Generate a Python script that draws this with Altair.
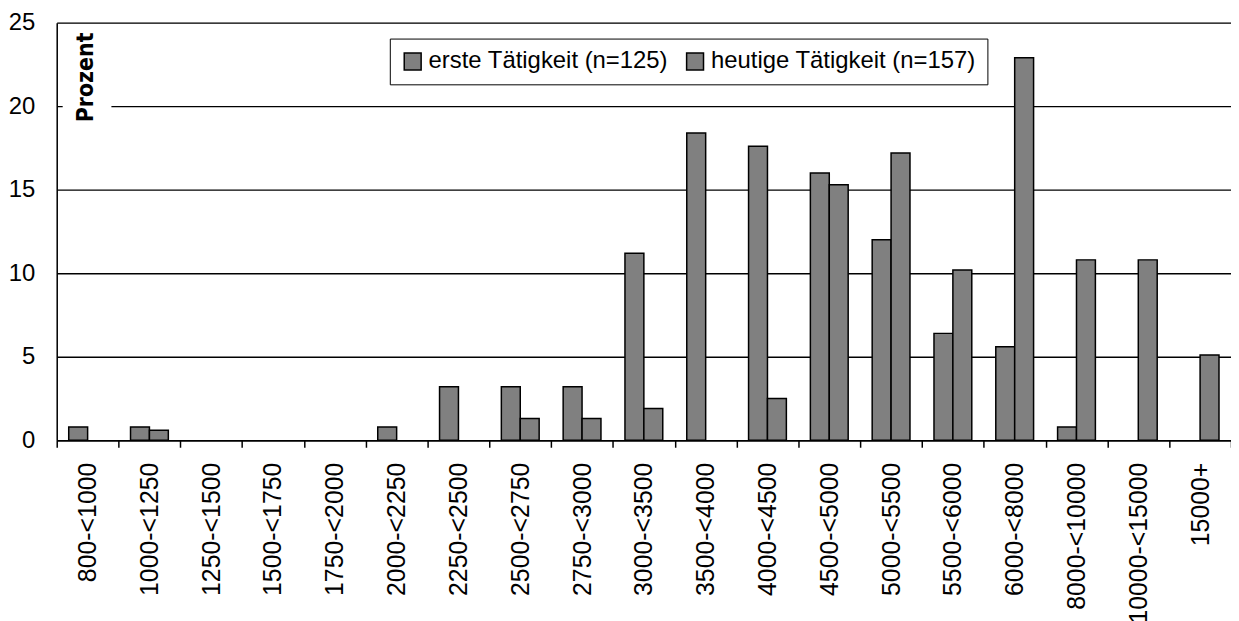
import altair as alt
import pandas as pd

categories = ["800-<1000", "1000-<1250", "1250-<1500", "1500-<1750", "1750-<2000",
              "2000-<2250", "2250-<2500", "2500-<2750", "2750-<3000", "3000-<3500",
              "3500-<4000", "4000-<4500", "4500-<5000", "5000-<5500", "5500-<6000",
              "6000-<8000", "8000-<10000", "10000-<15000", "15000+"]
erste = [0.8, 0.8, 0, 0, 0, 0.8, 3.2, 3.2, 3.2, 11.2, 18.4, 17.6, 16.0, 12.0, 6.4, 5.6, 0.8, 0, 0]
heutige = [0, 0.6, 0, 0, 0, 0, 0, 1.3, 1.3, 1.9, 0, 2.5, 15.3, 17.2, 10.2, 22.9, 10.8, 10.8, 5.1]
series = ["erste Tätigkeit (n=125)", "heutige Tätigkeit (n=157)"]
y_ticks = [0, 5, 10, 15, 20, 25]

rows = []
for c, a, b in zip(categories, erste, heutige):
    rows.append({"Kategorie": c, "Serie": series[0], "Prozent": a})
    rows.append({"Kategorie": c, "Serie": series[1], "Prozent": b})
df = pd.DataFrame(rows)

FONT = "Liberation Sans, Arial, sans-serif"

bars = alt.Chart(df).transform_filter("datum.Prozent > 0").mark_bar(
    stroke="black", strokeWidth=1.5
).encode(
    x=alt.X("Kategorie:N", sort=categories, title=None,
            scale=alt.Scale(domain=categories, paddingInner=0, paddingOuter=0),
            axis=alt.Axis(tickBand="extent", ticks=True, tickSize=7, tickColor="black",
                          tickWidth=1.5, grid=False, labelAngle=-90, labelFontSize=25,
                          labelFont=FONT, labelColor="black", labelPadding=15,
                          domainColor="black", domainWidth=1.5, labelLimit=300)),
    xOffset=alt.XOffset("Serie:N", sort=series,
                        scale=alt.Scale(domain=series, paddingInner=0, paddingOuter=0.635)),
    y=alt.Y("Prozent:Q", title=None,
            scale=alt.Scale(domain=[0, 25], nice=False),
            axis=alt.Axis(values=y_ticks, grid=True, gridColor="black", gridWidth=1.3,
                          gridOpacity=1, ticks=False, labelFontSize=24, labelFont=FONT,
                          labelColor="black", labelPadding=22, domainColor="black",
                          domainWidth=1.5)),
    color=alt.Color("Serie:N", sort=series,
                    scale=alt.Scale(domain=series, range=["#808080", "#808080"]),
                    legend=alt.Legend(title=None, orient="none", legendX=335, legendY=16,
                                      direction="horizontal", columns=2,
                                      symbolType="square", symbolSize=289,
                                      symbolStrokeColor="black", symbolStrokeWidth=1.5,
                                      symbolFillColor="#808080", symbolOpacity=1,
                                      labelFontSize=24, labelFont=FONT, labelColor="black",
                                      labelOffset=4, columnPadding=15, padding=11,
                                      strokeColor="black", fillColor="white",
                                      labelLimit=400)),
)

one = pd.DataFrame({"t": ["Prozent"]})
mask = alt.Chart(one).mark_rect(color="white").encode(
    x=alt.value(6), x2=alt.value(55), y=alt.value(78), y2=alt.value(92)
)
label = alt.Chart(one).mark_text(
    angle=270, fontWeight="bold", fontSize=23,
    font="Liberation Sans Narrow, DejaVu Sans Condensed, Arial Narrow, sans-serif",
    color="black", align="center", baseline="middle"
).encode(text="t:N", x=alt.value(29), y=alt.value(55))

chart = alt.layer(bars, mask, label).properties(
    width=1181, height=420,
    autosize=alt.AutoSizeParams(type="none"),
    padding={"left": 49, "top": 13, "right": 0, "bottom": 180},
).configure_view(stroke=None).configure(background="white")

chart.save("out.html", embed_options={"renderer": "svg", "actions": False})
